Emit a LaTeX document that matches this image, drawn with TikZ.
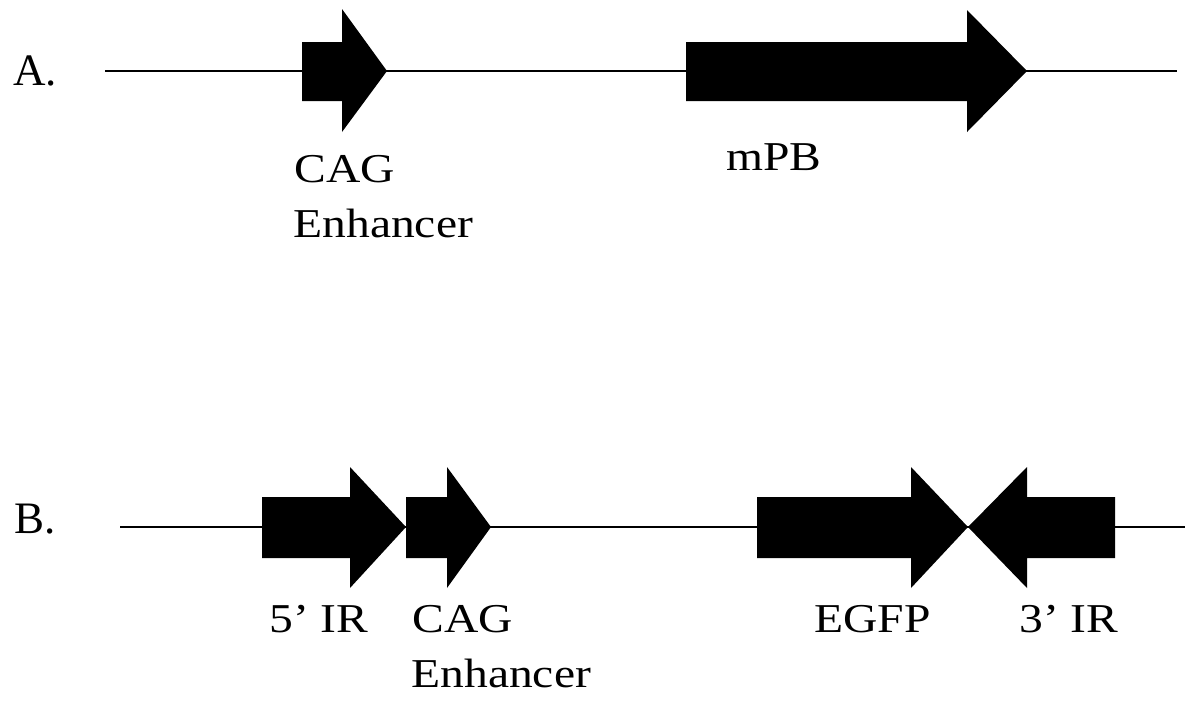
\documentclass[tikz,border=0pt]{standalone}
\usepackage{fontspec}
\setmainfont{Liberation Serif}
\newcommand\stretchlbl[1]{\scalebox{1.16}[1]{#1}}
\begin{document}
\begin{tikzpicture}[x=0.5pt,y=-0.5pt,
  lbl/.style={inner sep=0pt,anchor=base west,font=\fontsize{20.5}{22}\selectfont},
  rowlbl/.style={inner sep=0pt,anchor=base west,font=\fontsize{22.5}{24}\selectfont},
  backbone/.style={line width=1pt,black},
  element/.style={fill=black}]
\useasboundingbox[fill=white] (0,0) rectangle (1185,703);
% Row A
\node[rowlbl] (rowA) at (13,85) {A.};
\coordinate (a0) at (105,71);
\coordinate (a1) at (1177,71);
\draw[backbone] (a0) -- (a1);
\fill[element] (302,42) -- (342,42) -- (342,9) -- (387,71) -- (342,132) -- (342,101) -- (302,101) -- cycle;
\fill[element] (686,42) -- (967,42) -- (967,10) -- (1027,71) -- (967,132) -- (967,101) -- (686,101) -- cycle;
\node[lbl] (cagA) at (294,182) {\stretchlbl{CAG}};
\node[lbl] (enhA) at (293,237) {\stretchlbl{Enhancer}};
\node[lbl] (mpb) at (726,170) {\stretchlbl{mPB}};
% Row B
\node[rowlbl] (rowB) at (14,533) {B.};
\coordinate (b0) at (120,527);
\coordinate (b1) at (1185,527);
\draw[backbone] (b0) -- (b1);
\fill[element] (262,497) -- (350,497) -- (350,467) -- (406,527) -- (350,588) -- (350,558) -- (262,558) -- cycle;
\fill[element] (406,497) -- (447,497) -- (447,467) -- (491,527) -- (447,588) -- (447,558) -- (406,558) -- cycle;
\fill[element] (757,497) -- (911,497) -- (911,467) -- (968,527) -- (911,588) -- (911,558) -- (757,558) -- cycle;
\fill[element] (1115,497) -- (1027,497) -- (1027,467) -- (968,527) -- (1027,588) -- (1027,558) -- (1115,558) -- cycle;
\node[lbl] (ir5) at (269,632) {\stretchlbl{5’ IR}};
\node[lbl] (cagB) at (412,632) {\stretchlbl{CAG}};
\node[lbl] (enhB) at (411,687) {\stretchlbl{Enhancer}};
\node[lbl] (egfp) at (814,632) {\stretchlbl{EGFP}};
\node[lbl] (ir3) at (1019,632) {\stretchlbl{3’ IR}};
\end{tikzpicture}
\end{document}
